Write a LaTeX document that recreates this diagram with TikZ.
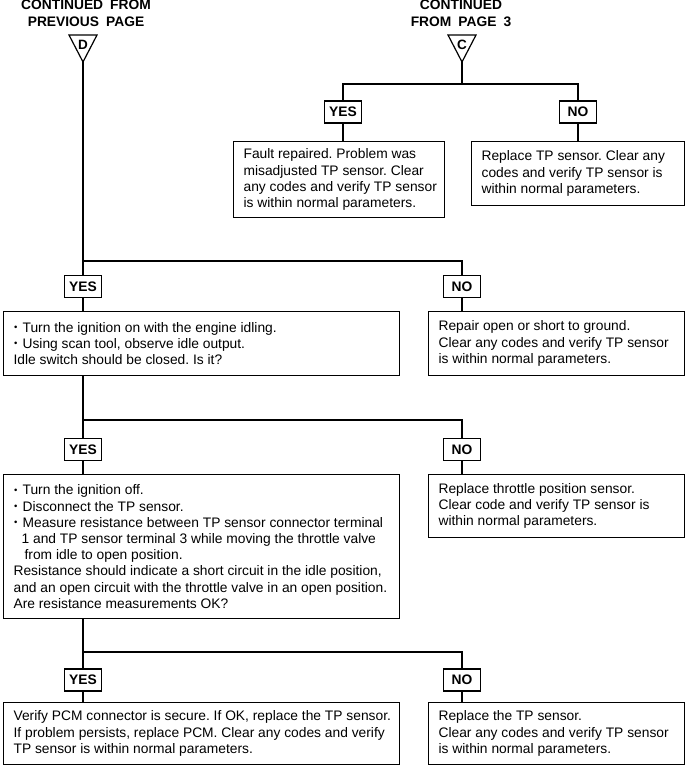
\documentclass[tikz,border=0pt]{standalone}
\usepackage{fontspec}
\setmainfont{Liberation Sans}
\frenchspacing
\newcommand{\bul}{\makebox[9pt][l]{\hspace{0.5pt}\raisebox{1.6pt}{\fontsize{9.5}{9.5}\selectfont •}}}
\begin{document}
\begin{tikzpicture}[x=1pt,y=-1pt,line width=1.2pt,
  frame/.style={draw,line width=1.2pt,inner sep=0pt,anchor=north west},
  btxt/.style={anchor=west,align=left,inner sep=0pt,font=\fontsize{13.8}{16.2}\selectfont},
  yn/.style={draw,line width=1.2pt,font=\fontsize{13.8}{14}\selectfont\bfseries,minimum width=37pt,minimum height=22pt,inner sep=0pt},
  ttl/.style={anchor=base,inner sep=0pt,font=\fontsize{13.8}{16}\selectfont\bfseries},
  tlet/.style={inner sep=0pt,font=\fontsize{13.5}{14}\selectfont\bfseries}]
\useasboundingbox (0,0) rectangle (688,767);

% titles
\node[ttl] (tl1) at (86,10) {CONTINUED\hspace{7pt}FROM};
\node[ttl] (tl2) at (86,27) {PREVIOUS\hspace{7pt}PAGE};
\node[ttl] (tr1) at (461,10) {CONTINUED};
\node[ttl] (tr2) at (461,27) {FROM\hspace{7pt}PAGE\hspace{7pt}3};

% connectors (triangles)
\draw[line join=miter] (69,35) -- (97,35) -- (83,62) -- cycle;
\draw[line join=miter] (448,35) -- (476,35) -- (462,62) -- cycle;
\node[tlet] (Dl) at (83,45) {D};
\node[tlet] (Cl) at (462,45) {C};
\coordinate (Dtip) at (83,62);
\coordinate (Ctip) at (462,62);

% top branch
\coordinate (h1) at (462,84);
\node[yn] (yes1) at (343,112) {YES};
\node[yn] (no1) at (578,112) {NO};
\node[frame,minimum width=211pt,minimum height=76pt] (fault) at (233,141) {};
\node[btxt] (faultt) at ([xshift=10pt]fault.west) {Fault repaired. Problem was\\misadjusted TP sensor. Clear\\any codes and verify TP sensor\\is within normal parameters.};
\node[frame,minimum width=213pt,minimum height=64pt] (repl) at (471,141) {};
\node[btxt] (replt) at ([xshift=10pt]repl.west) {Replace TP sensor. Clear any\\codes and verify TP sensor is\\within normal parameters.};

% second level
\coordinate (h2) at (83,261);
\node[yn] (yes2) at (83,286.5) {YES};
\node[yn] (no2) at (462,286.5) {NO};
\node[frame,minimum width=396pt,minimum height=64pt] (b1) at (3,311) {};
\node[btxt] (b1t) at ([xshift=10pt]b1.west) {\bul Turn the ignition on with the engine idling.\\\bul Using scan tool, observe idle output.\\Idle switch should be closed. Is it?};
\node[frame,minimum width=256pt,minimum height=64pt] (n1) at (428,311) {};
\node[btxt] (n1t) at ([xshift=10pt]n1.west) {Repair open or short to ground.\\Clear any codes and verify TP sensor\\is within normal parameters.};

% third level
\coordinate (h3) at (83,420);
\node[yn] (yes3) at (83,449.5) {YES};
\node[yn] (no3) at (462,449.5) {NO};
\node[frame,minimum width=396pt,minimum height=144pt] (b2) at (3,474) {};
\node[btxt] (b2t) at ([xshift=10pt]b2.west) {\bul Turn the ignition off.\\\bul Disconnect the TP sensor.\\\bul Measure resistance between TP sensor connector terminal\\\hspace*{8pt}1 and TP sensor terminal 3 while moving the throttle valve\\\hspace*{11pt}from idle to open position.\\Resistance should indicate a short circuit in the idle position,\\and an open circuit with the throttle valve in an open position.\\Are resistance measurements OK?};
\node[frame,minimum width=256pt,minimum height=63pt] (n2) at (428,474) {};
\node[btxt] (n2t) at ([xshift=10pt]n2.west) {Replace throttle position sensor.\\Clear code and verify TP sensor is\\within normal parameters.};

% fourth level
\coordinate (h4) at (83,652);
\node[yn] (yes4) at (83,680) {YES};
\node[yn] (no4) at (462,680) {NO};
\node[frame,minimum width=396pt,minimum height=62pt] (b3) at (3,702) {};
\node[btxt] (b3t) at ([xshift=10pt]b3.west) {Verify PCM connector is secure. If OK, replace the TP sensor.\\If problem persists, replace PCM. Clear any codes and verify\\TP sensor is within normal parameters.};
\node[frame,minimum width=256pt,minimum height=62pt] (n3) at (428,702) {};
\node[btxt] (n3t) at ([xshift=10pt]n3.west) {Replace the TP sensor.\\Clear any codes and verify TP sensor\\is within normal parameters.};

% lines
\draw (Ctip) -- (h1);
\draw (yes1.north) |- (h1) -| (no1.north);
\draw (yes1.south) -- (yes1.south |- fault.north);
\draw (no1.south) -- (no1.south |- repl.north);

\draw (Dtip) -- (yes2.north);
\draw (h2) -| (no2.north);
\draw (yes2.south) -- (yes2.south |- b1.north);
\draw (no2.south) -- (no2.south |- n1.north);

\draw (yes3.north |- b1.south) -- (yes3.north);
\draw (h3) -| (no3.north);
\draw (yes3.south) -- (yes3.south |- b2.north);
\draw (no3.south) -- (no3.south |- n2.north);

\draw (yes4.north |- b2.south) -- (yes4.north);
\draw (h4) -| (no4.north);
\draw (yes4.south) -- (yes4.south |- b3.north);
\draw (no4.south) -- (no4.south |- n3.north);
\end{tikzpicture}
\end{document}
